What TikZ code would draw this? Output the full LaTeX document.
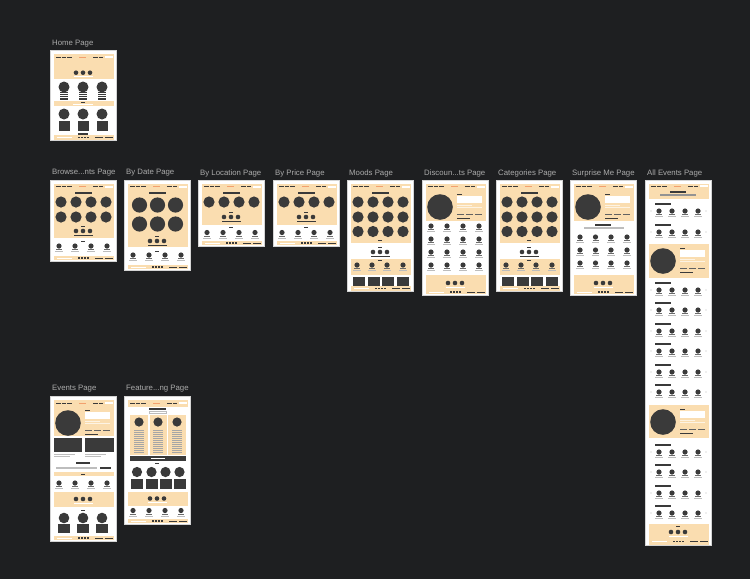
\documentclass[tikz,border=0pt]{standalone}
\usepackage{fontspec}
\setmainfont{Liberation Sans}
\definecolor{bgc}{HTML}{1E1F21}
\definecolor{framec}{HTML}{D4D4D4}
\definecolor{beige}{HTML}{FADDB0}
\definecolor{ink}{HTML}{3A3A3A}
\definecolor{labelc}{HTML}{ABABAB}
\definecolor{orangec}{HTML}{F2A06E}
\definecolor{lgray}{HTML}{BDBDBD}
\tikzset{
  pagelabel/.style={anchor=west,text=labelc,font=\fontsize{7.8}{8}\selectfont,inner sep=0pt},
}
% frame of height #1
\newcommand\wfframe[1]{\fill[framec] (0,0) rectangle (67,#1);\fill[white] (1.3,1.3) rectangle (65.7,#1-1.3);}
% beige band from y #1 to y #2
\newcommand\wfband[2]{\fill[beige] (3.5,#1) rectangle (63.5,#2);}
% navigation bar at y #1
\newcommand\wfnav[1]{%
  \foreach \a in {6,11.5,17}{\fill[ink] (\a,#1-0.45) rectangle (\a+4.5,#1+0.45);}
  \fill[orangec] (29,#1-0.45) rectangle (35.5,#1+0.45);
  \foreach \a in {43,48.5}{\fill[ink] (\a,#1-0.45) rectangle (\a+4.5,#1+0.45);}
  \fill[white] (55,#1-1) rectangle (62.5,#1+1);}
% small dash centred at (#1,#2)
\newcommand\wfdash[2]{\fill[ink] (#1-2.2,#2-0.5) rectangle (#1+2.2,#2+0.5);}
% title bar centred at (#1,#2)
\newcommand\wftitle[2]{\fill[ink] (#1-8.5,#2-0.8) rectangle (#1+8.5,#2+0.8);}
% three small circles with bar below, centre (#1,#2), bar colour #3
\newcommand\wftri[3]{%
  \foreach \d in {0,7,14}{\fill[ink] (#1-7+\d,#2) circle (2.3pt);}
  \fill[#3] (#1-9.5,#2+3.6) rectangle (#1+9.5,#2+4.5);}
% small card: circle with two label lines
\newcommand\wfcard[2]{%
  \fill[ink] (#1,#2) circle (2.6pt);
  \fill[ink!75] (#1-3,#2+3.4) rectangle (#1+3,#2+4.3);
  \fill[lgray] (#1-3.6,#2+5) rectangle (#1+3.6,#2+6.3);}
% footer centred at y #1
\newcommand\wffoot[1]{%
  \fill[beige] (3.5,#1-2.3) rectangle (63.5,#1+2.3);
  \fill[white] (6.5,#1-0.45) rectangle (22,#1+0.45);
  \foreach \a in {28,31,34,37}{\fill[ink] (\a,#1-0.6) rectangle (\a+1.8,#1+0.6);}
  \fill[ink] (45,#1-0.45) rectangle (53,#1+0.45);
  \fill[ink] (54.5,#1-0.45) rectangle (62.5,#1+0.45);}
% hero with big circle and text block, top at y #1
\newcommand\wfherobody[1]{%
  \fill[ink] (18,#1+17) circle (12.8pt);
  \fill[ink] (35,#1+3.5) rectangle (39.5,#1+4.5);
  \fill[white] (35,#1+6) rectangle (60,#1+13);
  \fill[white!65!beige] (35,#1+14.6) rectangle (50,#1+15.6);
  \fill[white!65!beige] (35,#1+16.8) rectangle (60,#1+17.8);
  \foreach \a in {35,44,53}{\fill[ink!80] (\a,#1+23.5) rectangle (\a+6.5,#1+25);}
  \fill[ink] (35,#1+27.6) rectangle (48,#1+28.8);}
% row of All Events page, title at y #1
\newcommand\wfrow[1]{%
  \fill[ink] (10,#1-0.6) rectangle (26,#1+0.6);
  \foreach \a in {14,27,40,53}{\wfcard{\a}{#1+7}}
  \fill[lgray] (6,#1+7) circle (0.7pt);
  \fill[lgray] (61,#1+7) circle (0.7pt);}
% grid of big circles (Browse, Moods, ...)
\newcommand\wfbig[3]{\fill[ink] (#1,#2) circle (#3pt);}

\begin{document}
\begin{tikzpicture}[x=1pt,y=-1pt]
\fill[bgc] (0,0) rectangle (750,579);
\useasboundingbox (0,0) rectangle (750,579);

% ---------- labels ----------
\node[pagelabel] (lhome) at (52,44) {Home Page};
\node[pagelabel] (lbrowse) at (52,173) {Browse...nts Page};
\node[pagelabel] (ldate) at (126,173) {By Date Page};
\node[pagelabel] (lloc) at (200,173) {By Location Page};
\node[pagelabel] (lprice) at (275,173) {By Price Page};
\node[pagelabel] (lmoods) at (349,173) {Moods Page};
\node[pagelabel] (ldisc) at (424,173) {Discoun...ts Page};
\node[pagelabel] (lcat) at (498,173) {Categories Page};
\node[pagelabel] (lsurp) at (572,173) {Surprise Me Page};
\node[pagelabel] (lall) at (647,173) {All Events Page};
\node[pagelabel] (levents) at (52,389) {Events Page};
\node[pagelabel] (lfeat) at (126,389) {Feature...ng Page};

% ---------- Home Page ----------
\begin{scope}[shift={(50,50)}]
  \wfframe{91}
  \wfband{3.5}{29}
  \wfnav{7}
  \wftri{33}{22.7}{white}
  \foreach \c in {14,33,52}{
    \fill[ink] (\c,37) circle (5.5pt);
    \foreach \s in {0,1,2,3}{\fill[ink] (\c-4,41.5+\s*2.3) rectangle (\c+4,42.8+\s*2.3);}
  }
  \wfband{51}{55.5}
  \wfdash{33}{52.4}
  \fill[white] (23,54) rectangle (43,54.8);
  \foreach \c in {14,33,52}{
    \fill[ink] (\c,64) circle (5.5pt);
    \fill[ink] (\c-5.5,71) rectangle (\c+5.5,80.5);
  }
  \fill[ink] (28,83.4) rectangle (38,84.8);
  \wffoot{87.3}
\end{scope}

% ---------- Browse...nts Page ----------
\begin{scope}[shift={(50,180)}]
  \wfframe{82}
  \wfband{3.5}{58}
  \wfnav{6.5}
  \wftitle{33}{13}
  \foreach \c in {11,26,41,56}{\wfbig{\c}{22}{5.6}\wfbig{\c}{37}{5.6}}
  \wfdash{33}{46}
  \wftri{33}{51}{ink}
  \wfdash{33}{61.5}
  \foreach \c in {9,25,41,57}{\wfcard{\c}{66}}
  \wffoot{78}
\end{scope}

% ---------- By Date Page ----------
\begin{scope}[shift={(124,180)}]
  \wfframe{91}
  \wfband{3.5}{67}
  \wfnav{6.5}
  \wftitle{33}{13}
  \foreach \c in {15.5,33.5,51.5}{\wfbig{\c}{25}{7.6}\wfbig{\c}{44}{7.6}}
  \wfdash{33}{56}
  \wftri{33}{61}{ink}
  \wfdash{33}{71}
  \foreach \c in {9,25,41,57}{\wfcard{\c}{75}}
  \wffoot{87}
\end{scope}

% ---------- By Location Page ----------
\begin{scope}[shift={(198,180)}]
  \wfframe{67}
  \wfband{3.5}{45}
  \wfnav{6.5}
  \wftitle{33}{13}
  \foreach \c in {11,26,41,56}{\wfbig{\c}{22}{5.6}}
  \wfdash{33}{32}
  \wftri{33}{37}{ink}
  \wfdash{33}{47.5}
  \foreach \c in {9,25,41,57}{\wfcard{\c}{52.5}}
  \wffoot{63}
\end{scope}

% ---------- By Price Page ----------
\begin{scope}[shift={(273,180)}]
  \wfframe{67}
  \wfband{3.5}{45}
  \wfnav{6.5}
  \wftitle{33}{13}
  \foreach \c in {11,26,41,56}{\wfbig{\c}{22}{5.6}}
  \wfdash{33}{32}
  \wftri{33}{37}{ink}
  \wfdash{33}{47.5}
  \foreach \c in {9,25,41,57}{\wfcard{\c}{52.5}}
  \wffoot{63}
\end{scope}

% ---------- Moods Page ----------
\begin{scope}[shift={(347,180)}]
  \wfframe{112}
  \wfband{3.5}{63}
  \wfnav{6.5}
  \wftitle{33}{13}
  \foreach \c in {11,26,41,56}{\wfbig{\c}{22}{5.6}\wfbig{\c}{37}{5.6}\wfbig{\c}{51.5}{5.6}}
  \wfdash{33}{60.2}
  \wfdash{33}{67.5}
  \wftri{33}{72}{ink}
  \wfband{79}{95}
  \wfdash{33}{80.8}
  \foreach \c in {10,25,40,56}{\wfcard{\c}{85}}
  \foreach \c in {6,20.5,35,49.5}{\fill[ink] (\c,97) rectangle (\c+12,107);}
  \wffoot{108.5}
\end{scope}

% ---------- Discoun...ts Page ----------
\begin{scope}[shift={(422,180)}]
  \wfframe{116}
  \wfband{3.5}{41}
  \wfnav{6.5}
  \wfherobody{10}
  \foreach \r in {46,59,72,85}{\foreach \c in {9,25,41,57}{\wfcard{\c}{\r}}}
  \wfband{95}{113}
  \wftri{33}{103}{white}
  \wffoot{112}
\end{scope}

% ---------- Categories Page ----------
\begin{scope}[shift={(496,180)}]
  \wfframe{112}
  \wfband{3.5}{63}
  \wfnav{6.5}
  \wftitle{33}{13}
  \foreach \c in {11,26,41,56}{\wfbig{\c}{22}{5.6}\wfbig{\c}{37}{5.6}\wfbig{\c}{51.5}{5.6}}
  \wfdash{33}{60.2}
  \wfdash{33}{67.5}
  \wftri{33}{72}{ink}
  \wfband{79}{95}
  \wfdash{33}{80.8}
  \foreach \c in {10,25,40,56}{\wfcard{\c}{85}}
  \foreach \c in {6,20.5,35,49.5}{\fill[ink] (\c,97) rectangle (\c+12,107);}
  \wffoot{108.5}
\end{scope}

% ---------- Surprise Me Page ----------
\begin{scope}[shift={(570,180)}]
  \wfframe{116}
  \wfband{3.5}{41}
  \wfnav{6.5}
  \wfherobody{10}
  \fill[ink] (25,44.3) rectangle (41,45.5);
  \fill[lgray] (14,47.3) rectangle (54,49);
  \foreach \r in {57,70,83}{\foreach \c in {10,25.5,41,57}{\wfcard{\c}{\r}}}
  \wfband{95}{113}
  \wftri{33}{103}{white}
  \wffoot{112}
\end{scope}

% ---------- All Events Page ----------
\begin{scope}[shift={(645,180)}]
  \wfframe{366}
  \wfband{3.5}{18.5}
  \wfnav{6}
  \fill[ink] (25,11.4) rectangle (41,12.6);
  \fill[ink!55] (15,14.3) rectangle (51,16.3);
  \foreach \t in {24,45,103,123,144,164,185,205,265,285,306,326}{\wfrow{\t}}
  \wfband{64}{98}
  \wfherobody{64}
  \wfband{225}{258}
  \wfherobody{225}
  \wfband{344}{364.7}
  \wfdash{33}{346.5}
  \wftri{33}{352}{white}
  \wffoot{361.5}
\end{scope}

% ---------- Events Page ----------
\begin{scope}[shift={(50,396)}]
  \wfframe{146}
  \wfband{3.5}{40}
  \wfnav{7}
  \wfherobody{10}
  \fill[ink] (3.5,42) rectangle (32,56);
  \fill[ink] (34.5,42) rectangle (63.5,56);
  \fill[lgray] (3.5,57.6) rectangle (25,58.4);
  \fill[lgray] (3.5,59.6) rectangle (20,60.4);
  \fill[lgray] (34.5,57.6) rectangle (56,58.4);
  \fill[lgray] (34.5,59.6) rectangle (51,60.4);
  \fill[ink] (26,65.6) rectangle (40,68);
  \fill[lgray] (6,71.2) rectangle (47,72.8);
  \fill[ink] (50,71) rectangle (61,73);
  \wfband{76}{80}
  \wfdash{33}{78}
  \foreach \c in {9,25,41,57}{\wfcard{\c}{87}}
  \wfband{96}{111}
  \wftri{33}{103}{white}
  \wfdash{33}{114}
  \foreach \c in {14,33,52}{
    \fill[ink] (\c,122) circle (5.3pt);
    \fill[ink] (\c-6,127.5) rectangle (\c+6,136.5);
  }
  \wffoot{142}
\end{scope}

% ---------- Feature...ng Page ----------
\begin{scope}[shift={(124,396)}]
  \wfframe{129}
  \wfband{3.5}{10.5}
  \wfnav{7}
  \fill[ink] (25,12.3) rectangle (42,13.7);
  \draw[lgray,line width=0.5pt] (25,15.3) rectangle (42,17);
  \foreach \l/\r in {6/24,25.5/42.5,44/62}{
    \fill[beige] (\l,19) rectangle (\r,59);
    \fill[ink] (\l/2+\r/2,26) circle (4.6pt);
    \foreach \s in {0,...,11}{\fill[ink!45] (\l/2+\r/2-5,34+\s*2) rectangle (\l/2+\r/2+5,35+\s*2);}
  }
  \fill[ink] (6,60) rectangle (62,65);
  \fill[white] (27,61.7) rectangle (41,63.3);
  \wfdash{33}{67.5}
  \foreach \c in {13,27.5,41.5,55.5}{
    \fill[ink] (\c,76) circle (5.1pt);
    \fill[ink] (\c-6,83) rectangle (\c+6,93);
  }
  \wfband{96}{110}
  \wftri{33}{102.5}{white}
  \foreach \c in {9,25,41,57}{\wfcard{\c}{114.5}}
  \wffoot{125}
\end{scope}
\end{tikzpicture}
\end{document}
